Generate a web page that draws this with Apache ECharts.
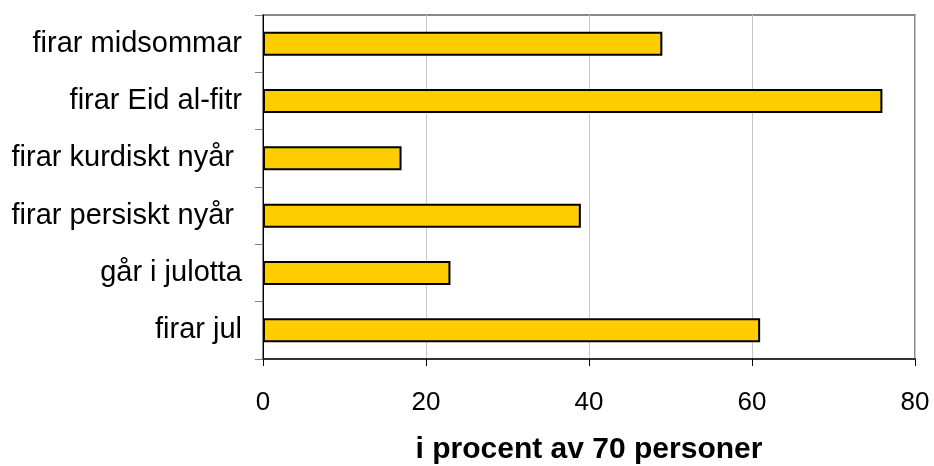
<!DOCTYPE html>
<html>
<head>
<meta charset="utf-8">
<script src="https://cdn.jsdelivr.net/npm/echarts@6/dist/echarts.min.js"></script>
<style>
  html, body { margin: 0; padding: 0; background: #fff; }
  #chart { width: 934px; height: 466px; }
</style>
</head>
<body>
<div id="chart"></div>
<script>
// Categories listed top to bottom (y axis is inverted)
const categories = [
  'firar midsommar',
  'firar Eid al-fitr',
  'firar kurdiskt nyår ',
  'firar persiskt nyår ',
  'går i julotta',
  'firar jul'
];
// Share of the 70 respondents, in percent
const values = [49, 76, 17, 39, 23, 61];
const xTicks = { min: 0, max: 80, interval: 20 };
const xTitle = 'i procent av 70 personer';

const FONT = '"Liberation Sans", Arial, sans-serif';

const chart = echarts.init(document.getElementById('chart'), null, { renderer: 'canvas' });
chart.setOption({
  animation: false,
  backgroundColor: '#ffffff',
  grid: {
    left: 263, right: 19, top: 15, bottom: 107,
    outerBoundsMode: 'none',
    containLabel: false,
    show: true,
    borderColor: '#888888',
    borderWidth: 2,
    backgroundColor: 'transparent'
  },
  xAxis: {
    type: 'value',
    min: xTicks.min,
    max: xTicks.max,
    interval: xTicks.interval,
    name: xTitle,
    nameLocation: 'middle',
    nameGap: 76,
    nameTextStyle: { fontFamily: FONT, fontSize: 30, fontWeight: 'bold', color: '#000' },
    axisLine: { show: true, lineStyle: { color: '#333', width: 2 } },
    axisTick: { show: true, length: 7, lineStyle: { color: '#000', width: 1 } },
    axisLabel: { fontFamily: FONT, fontSize: 26, color: '#000', margin: 31 },
    splitLine: { show: true, lineStyle: { color: '#c8c8c8', width: 1 } }
  },
  yAxis: {
    type: 'category',
    data: categories,
    inverse: true,
    axisLine: { show: true, lineStyle: { color: '#000', width: 1 } },
    axisTick: { show: true, length: 8, lineStyle: { color: '#808080', width: 1 } },
    axisLabel: { fontFamily: FONT, fontSize: 29, color: '#000', margin: 21, padding: [3, 0, 0, 0] },
    splitLine: { show: false }
  },
  series: [{
    type: 'bar',
    data: values,
    barWidth: 24,
    itemStyle: {
      color: '#FFCC00',
      borderColor: '#000000',
      borderWidth: 2
    }
  }]
});
</script>
</body>
</html>
